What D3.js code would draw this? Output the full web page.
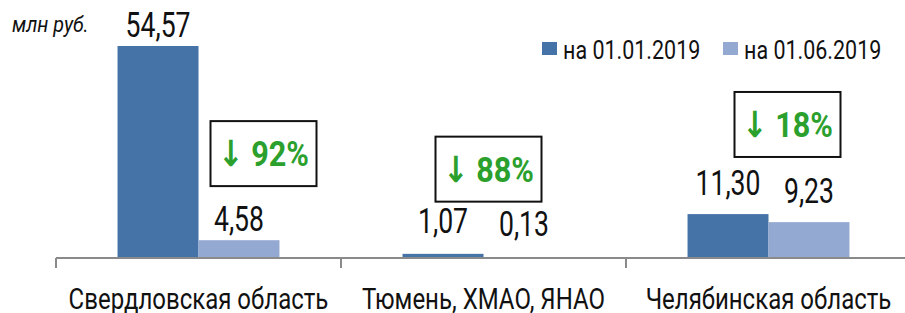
<!DOCTYPE html>
<html lang="ru">
<head>
<meta charset="UTF-8" />
<title>Bar chart</title>
<script src="https://d3js.org/d3.v7.min.js"></script>
<style>
    body { margin: 0; background: #fff; }
    svg text { font-family: Roboto, "DejaVu Sans", sans-serif; fill: #111; }
    .value { font-size: 35px; }
    .cat { font-size: 30px; }
    .legend text { font-size: 25px; }
    .unit { font-size: 22px; font-style: italic; }
    .badge text { font-size: 36px; font-weight: bold; fill: #2ba02d; }
</style>
</head>
<body>
<svg width="905" height="313"></svg>
<script>
    // data
    const categories = ["Свердловская область", "Тюмень, ХМАО, ЯНАО", "Челябинская область"];
    const seriesNames = ["на 01.01.2019", "на 01.06.2019"];
    const jan = [54.57, 1.07, 11.30];
    const jun = [4.58, 0.13, 9.23];

    // annotation layout (box centre: px offset from band centre, value level)
    const badgeDx = [65, 5, 19];
    const badgeAt = [27.0, 23.0, 34.5];
    const labelLift = [9, 21, 19];

    const colors = ["#4572a7", "#94a9d1"];

    const svg = d3.select("svg");
    const axisY = 258;

    // squeeze text horizontally around its anchor (reference font is a condensed face)
    function squeeze(sel, k) {
        sel.each(function () {
            const t = d3.select(this);
            const ax = +t.attr("x");
            t.attr("transform", "translate(" + ax + ",0) scale(" + k + ",1) translate(" + (-ax) + ",0)");
        });
        return sel;
    }

    const x0 = d3.scaleBand().domain(categories).range([56, 911]);
    const x1 = d3.scaleBand().domain(seriesNames).range([0, x0.bandwidth()]).paddingOuter(0.76);
    const y = d3.scaleLinear().domain([0, 54.57]).range([axisY, 46]);

    const rows = categories.map((c, i) => ({ cat: c, i: i, vals: [jan[i], jun[i]] }));

    // bars
    const grp = svg.selectAll(".grp").data(rows).enter().append("g")
        .attr("transform", d => "translate(" + x0(d.cat) + ",0)");

    grp.selectAll("rect").data(d => d.vals.map((v, k) => ({ v: v, k: k }))).enter()
        .append("rect")
        .attr("x", d => x1(seriesNames[d.k]))
        .attr("width", x1.bandwidth())
        .attr("y", d => y(d.v))
        .attr("height", d => axisY - y(d.v))
        .attr("fill", d => colors[d.k]);

    // value labels
    rows.forEach(r => {
        r.vals.forEach((v, k) => {
            const t = svg.append("text").attr("class", "value")
                .attr("x", x0(r.cat) + x1(seriesNames[k]) + x1.bandwidth() / 2)
                .attr("y", y(v) - labelLift[r.i])
                .attr("text-anchor", "middle")
                .text(v.toFixed(2).replace(".", ","));
            squeeze(t, 0.76);
        });
    });

    // axis line + ticks at band edges
    svg.append("line").attr("x1", 56).attr("x2", 905).attr("y1", axisY).attr("y2", axisY)
        .attr("stroke", "#8a8a8a").attr("stroke-width", 2);
    categories.forEach(c => {
        svg.append("line").attr("x1", x0(c)).attr("x2", x0(c)).attr("y1", axisY).attr("y2", axisY + 10)
            .attr("stroke", "#8a8a8a").attr("stroke-width", 2);
    });
    const cats = svg.selectAll(".cat").data(categories).enter().append("text")
        .attr("class", "cat")
        .attr("x", d => x0(d) + x0.bandwidth() / 2)
        .attr("y", 309)
        .attr("text-anchor", "middle")
        .text(d => d);
    squeeze(cats, 0.8);

    // change badges
    rows.forEach(r => {
        const pct = Math.round((1 - jun[r.i] / jan[r.i]) * 100);
        const cx = x0(r.cat) + x0.bandwidth() / 2 + badgeDx[r.i];
        const cy = y(badgeAt[r.i]);
        const b = svg.append("g").attr("class", "badge");
        b.append("rect").attr("x", cx - 53).attr("y", cy - 32).attr("width", 106).attr("height", 65)
            .attr("fill", "#fff").attr("stroke", "#111").attr("stroke-width", 2);
        const t = b.append("text").attr("x", cx).attr("y", cy + 13).attr("text-anchor", "middle")
            .text("\u2193 " + pct + "%");
        squeeze(t, 0.85);
    });

    // legend
    const lg = svg.append("g").attr("class", "legend");
    const legendX = [542, 723];
    seriesNames.forEach((s, k) => {
        lg.append("rect").attr("x", legendX[k]).attr("y", 42).attr("width", 15).attr("height", 13).attr("fill", colors[k]);
        const t = lg.append("text").attr("x", legendX[k] + 21).attr("y", 59).text(s);
        squeeze(t, 0.86);
    });

    const u = svg.append("text").attr("class", "unit").attr("x", 12).attr("y", 32).text("млн руб.");
    squeeze(u, 0.9);
</script>
</body>
</html>
